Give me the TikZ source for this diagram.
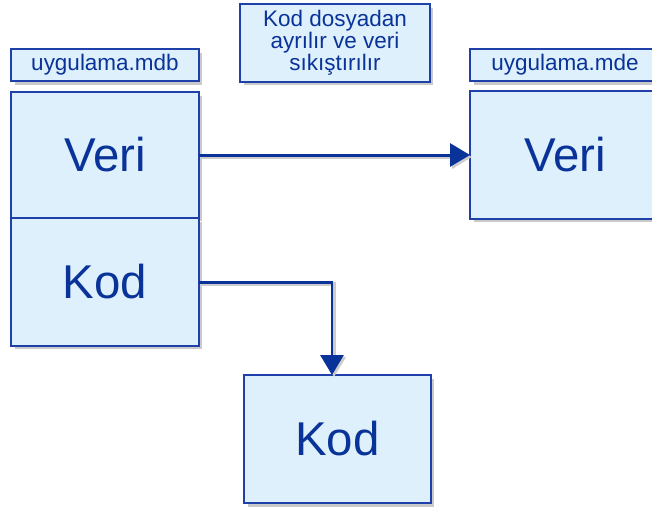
\documentclass[tikz,border=0pt]{standalone}
\usepackage{fontspec}
\setmainfont{Liberation Sans}
\usetikzlibrary{positioning,arrows.meta,shadows}
\definecolor{boxfill}{HTML}{DDF0FC}
\definecolor{boxline}{HTML}{1E40A8}
\definecolor{ink}{HTML}{0A3399}

\begin{document}
\begin{tikzpicture}[x=0.02cm,y=-0.02cm,
    every node/.style={text=ink},
    box/.style={draw=boxline,fill=boxfill,line width=1.1pt,inner sep=0pt,outer sep=0pt,
      drop shadow={shadow xshift=0.07cm,shadow yshift=-0.07cm,opacity=0.35,fill=black!60}},
    tag/.style={box,minimum width=3.76cm,minimum height=0.64cm,font=\fontsize{12.8}{14}\selectfont},
    big/.style={box,font=\fontsize{27}{30}\selectfont},
    arr/.style={draw=ink,line width=1.7pt,-{Triangle[length=0.4cm,width=0.46cm]},
      preaction={draw=black!20,line width=2.5pt,transform canvas={shift={(2,2)}}}}]
    \useasboundingbox (0,0) rectangle (652,508);
    \clip (0,0) rectangle (652,508);
    % source file
    \node[tag] (mdb) at (105,65) {\raisebox{1pt}{uygulama.mdb}};
    \node[big,minimum width=3.76cm,minimum height=2.52cm] (veriA) at (105,155) {Veri};
    \node[big,minimum width=3.76cm,minimum height=2.56cm] (kodA) at (105,282) {Kod};
    % note
    \node[box,minimum width=3.8cm,minimum height=1.56cm,align=center,
      font=\fontsize{12.8}{12.5}\selectfont] (note) at (335,43)
      {Kod dosyadan\\ayrılır ve veri\\sıkıştırılır};
    % result file
    \node[tag,minimum width=3.8cm] (mde) at (565,65) {\raisebox{1pt}{uygulama.mde}};
    \node[big,minimum width=3.8cm,minimum height=2.56cm] (veriB) at (565,155) {Veri};
    % separated code
    \node[big,minimum width=3.74cm,minimum height=2.56cm] (kodB) at (337.5,439) {Kod};
    % connectors
    \draw[arr] (veriA.east) -- (veriB.west);
    \draw[arr] (kodA.east) -| ([xshift=-0.11cm]kodB.north);
  \end{tikzpicture}
\end{document}
